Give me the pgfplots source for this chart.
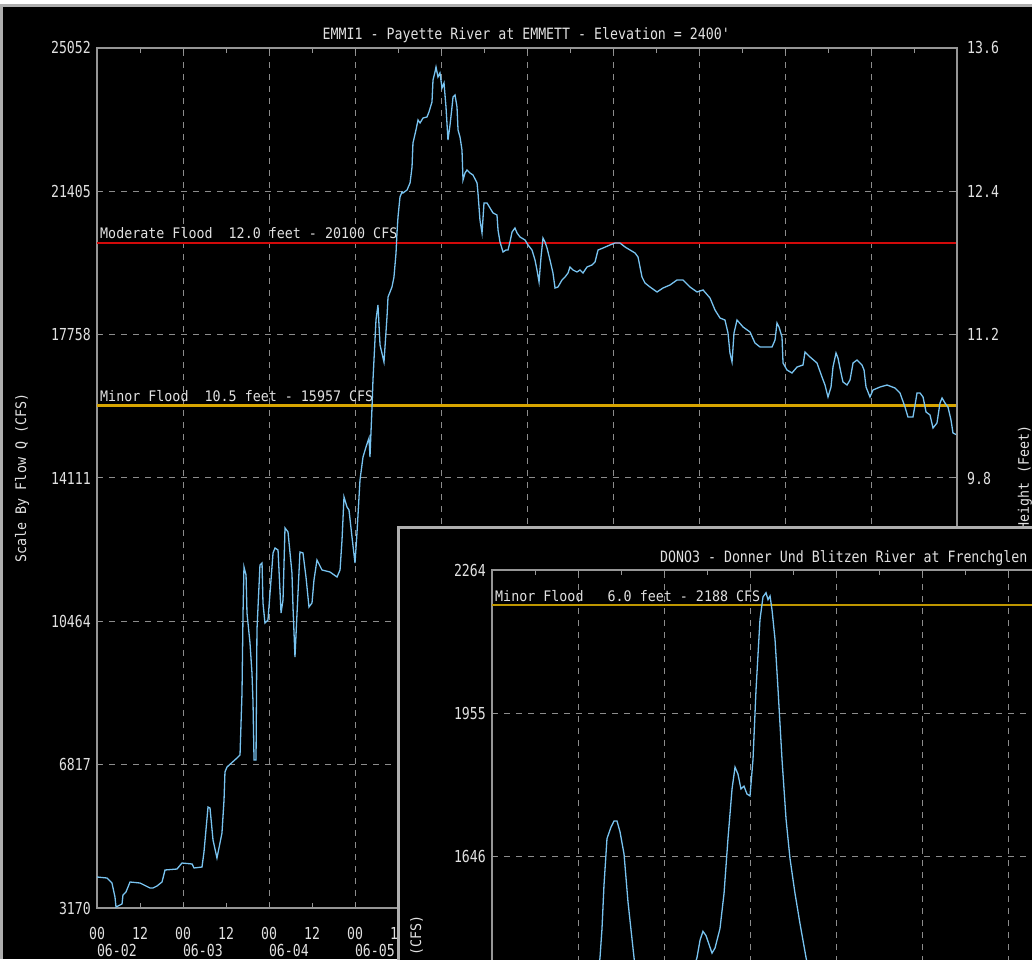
\documentclass[border=0pt]{standalone}
\usepackage{fontspec}
\usepackage{pgfplots}
\pgfplotsset{compat=1.18}

\newfontfamily\ticksfont[FakeStretch=0.8]{DejaVu Sans Mono}
\newfontfamily\labelfont[FakeStretch=0.92]{DejaVu Sans Mono}
\newfontfamily\titlefont[FakeStretch=0.85]{DejaVu Sans Mono}
\newcommand\tickf{\ticksfont\fontsize{16.5}{17}\selectfont}
\newcommand\labf{\labelfont\fontsize{14.5}{15}\selectfont}
\newcommand\titf{\titlefont\fontsize{15.6}{16}\selectfont}

\definecolor{framegray}{RGB}{150,150,150}
\definecolor{gridgray}{RGB}{140,140,140}
\definecolor{txtgray}{RGB}{225,225,225}
\definecolor{flowblue}{RGB}{120,195,240}
\definecolor{modred}{RGB}{210,10,10}
\definecolor{goldmain}{HTML}{D8A500}
\definecolor{goldinset}{HTML}{BE9600}
\definecolor{winborder}{RGB}{175,175,175}

\pgfplotsset{
  hydro/.style={
    scale only axis, width=860pt, height=860pt,
    xmin=0, xmax=10, scaled ticks=false,
    axis line style={draw=framegray, line width=1.4pt},
    xtick={0,1,...,10},
    extra x ticks={0.5,1.5,...,9.5},
    extra x tick style={grid=none},
    grid=major,
    major grid style={draw=gridgray, line width=1pt, dash pattern=on 6pt off 6pt},
    tick style={draw=framegray, line width=1pt},
    major tick length=5pt, tick align=inside,
    yticklabel style={font=\tickf, text=txtgray, anchor=east, inner sep=0pt, xshift=-6pt},
    xticklabel style={font=\tickf, text=txtgray, anchor=north, align=center, inner sep=0pt, yshift=-19pt},
    every axis title/.style={at={(0.5,1)}, anchor=base, yshift=8pt, font=\titf, text=txtgray, inner sep=0pt},
    every axis y label/.style={at={(axis description cs:-0.0872,0.5)}, rotate=90, anchor=center, font=\labf, text=txtgray},
  }
}

\begin{document}
\begin{tikzpicture}
\useasboundingbox (0,0) rectangle (1032pt,959pt);
\clip (0,0) rectangle (1032pt,959pt);
\fill[white] (0,0) rectangle (1032pt,959pt);
\fill[winborder] (0,0) rectangle (1032pt,955pt);
\fill[black] (3pt,0) rectangle (1032pt,952pt);

% EMMI1 main window
\begin{axis}[hydro, at={(97pt,51pt)}, anchor=south west,
  ymin=3170, ymax=25052,
  ytick={3170,6817,10464,14111,17758,21405,25052},
  yticklabels={3170,6817,10464,14111,17758,21405,25052},
  xticklabels={{00\\\rlap{06-02}},{00\\\rlap{06-03}},{00\\\rlap{06-04}},{00\\\rlap{06-05}},{},{},{},{},{},{},{}},
  extra x tick labels={12,12,12,12,{},{},{},{},{},{}},
  title={EMMI1 - Payette River at EMMETT - Elevation = 2400\textquotesingle},
  ylabel={Scale By Flow Q (CFS)}]
\addplot[color=modred, solid, line width=1.8pt] coordinates {(0,20100) (10,20100)};
\addplot[color=goldmain, solid, line width=2.2pt] coordinates {(0,15957) (10,15957)};
\node[anchor=base west, inner sep=0pt, xshift=3pt, yshift=4pt, font=\labf, text=txtgray]
  at (axis cs:0,20100) {Moderate Flood~~12.0 feet - 20100 CFS};
\node[anchor=base west, inner sep=0pt, xshift=3pt, yshift=4pt, font=\labf, text=txtgray]
  at (axis cs:0,15957) {Minor Flood~~10.5 feet - 15957 CFS};
\addplot[color=flowblue, line width=1.3pt] coordinates {
(0.000,3959) (0.116,3933) (0.174,3806) (0.209,3450) (0.221,3196) (0.291,3272) (0.302,3501)
(0.337,3577) (0.384,3832) (0.500,3806) (0.616,3679) (0.651,3679) (0.698,3730) (0.756,3832)
(0.791,4137) (0.930,4162) (0.988,4315) (1.105,4290) (1.128,4188) (1.221,4213) (1.244,4595)
(1.291,5740) (1.314,5715) (1.349,4900) (1.395,4442) (1.453,5078) (1.477,5918) (1.488,6631)
(1.512,6758) (1.628,6987) (1.663,7063) (1.686,8641) (1.698,10676) (1.709,11847) (1.733,11643)
(1.744,10676) (1.779,9913) (1.802,9149) (1.814,8412) (1.826,6936) (1.849,6936) (1.860,10244)
(1.895,11897) (1.919,11948) (1.930,10931) (1.953,10422) (1.988,10498) (2.012,11185) (2.047,12203)
(2.070,12330) (2.105,12279) (2.140,10676) (2.163,11007) (2.186,12839) (2.221,12737) (2.267,11694)
(2.279,10829) (2.302,9557) (2.326,10676) (2.360,12228) (2.395,12203) (2.430,11592) (2.465,10829)
(2.500,10931) (2.523,11516) (2.558,12025) (2.616,11770) (2.709,11719) (2.791,11592) (2.826,11770)
(2.849,12534) (2.872,13628) (2.907,13373) (2.930,13297) (2.965,12610) (3.000,11948) (3.023,12712)
(3.058,14060) (3.093,14645) (3.128,14900) (3.163,15129) (3.174,14645) (3.198,15918) (3.209,16605)
(3.244,18131) (3.267,18513) (3.291,17495) (3.337,17063) (3.372,18208) (3.384,18716) (3.430,18971)
(3.453,19225) (3.477,19836) (3.488,20345) (3.500,20752) (3.523,21261) (3.547,21388) (3.558,21363)
(3.605,21439) (3.640,21617) (3.663,22024) (3.674,22635) (3.709,22966) (3.733,23220) (3.756,23144)
(3.791,23271) (3.837,23296) (3.860,23424) (3.895,23678) (3.907,24238) (3.930,24441) (3.942,24569)
(3.965,24314) (3.988,24416) (4.012,24034) (4.035,24161) (4.058,23551) (4.081,22711) (4.105,23093)
(4.128,23551) (4.140,23805) (4.163,23856) (4.186,23551) (4.198,22966) (4.221,22787) (4.244,22457)
(4.256,21693) (4.279,21871) (4.302,21948) (4.337,21871) (4.372,21821) (4.419,21617) (4.430,21363)
(4.453,20676) (4.477,20345) (4.500,21108) (4.535,21108) (4.570,20981) (4.605,20854) (4.651,20803)
(4.663,20421) (4.686,20116) (4.721,19861) (4.756,19912) (4.779,19912) (4.802,20116) (4.826,20370)
(4.860,20472) (4.884,20345) (4.919,20243) (4.977,20167) (5.012,20040) (5.058,19912) (5.093,19658)
(5.116,19403) (5.140,19098) (5.163,19734) (5.186,20218) (5.209,20116) (5.233,19963) (5.267,19658)
(5.302,19327) (5.326,18945) (5.360,18971) (5.407,19149) (5.442,19225) (5.477,19327) (5.500,19480)
(5.535,19403) (5.581,19353) (5.616,19403) (5.651,19327) (5.698,19480) (5.756,19531) (5.791,19607)
(5.826,19912) (5.884,19963) (5.965,20040) (6.023,20090) (6.081,20090) (6.140,19989) (6.198,19912)
(6.256,19836) (6.291,19734) (6.337,19225) (6.372,19073) (6.430,18971) (6.512,18844) (6.581,18945)
(6.663,19022) (6.744,19149) (6.814,19149) (6.895,18971) (6.977,18844) (7.047,18895) (7.128,18691)
(7.186,18386) (7.244,18182) (7.302,18131) (7.337,17800) (7.360,17292) (7.384,17063) (7.407,17800)
(7.442,18131) (7.512,17953) (7.593,17826) (7.651,17546) (7.709,17444) (7.791,17444) (7.849,17444)
(7.884,17622) (7.907,18055) (7.930,17953) (7.965,17699) (7.977,17037) (8.023,16859) (8.081,16783)
(8.140,16935) (8.209,16986) (8.233,17317) (8.291,17190) (8.372,17037) (8.430,16681) (8.465,16477)
(8.500,16172) (8.535,16426) (8.558,16935) (8.593,17292) (8.616,17164) (8.651,16783) (8.674,16554)
(8.721,16477) (8.756,16605) (8.791,17037) (8.837,17113) (8.895,16986) (8.919,16859) (8.942,16426)
(8.988,16172) (9.023,16350) (9.105,16426) (9.186,16477) (9.279,16401) (9.337,16274) (9.395,15918)
(9.430,15663) (9.488,15663) (9.512,15968) (9.535,16274) (9.570,16274) (9.605,16172) (9.640,15790)
(9.686,15714) (9.721,15383) (9.767,15510) (9.802,16019) (9.826,16147) (9.860,16019) (9.895,15918)
(9.930,15587) (9.953,15256) (10.000,15205)};
\end{axis}

% stage axis on the right
\begin{axis}[scale only axis, width=860pt, height=860pt, at={(97pt,51pt)}, anchor=south west,
  xmin=0, xmax=10, ymin=3170, ymax=25052, scaled ticks=false,
  axis x line=none, axis y line*=right,
  y axis line style={draw=framegray, line width=1.4pt},
  ytick={14111,17758,21405,25052},
  yticklabels={9.8,11.2,12.4,13.6},
  ytick style={draw=none},
  yticklabel style={font=\tickf, text=txtgray, anchor=west, inner sep=0pt, xshift=10pt},
  every axis y label/.style={at={(axis description cs:1.079,0.5)}, rotate=90, anchor=center, font=\labf, text=txtgray},
  ylabel={Height (Feet)}]
\end{axis}

% DONO3 window on top
\fill[winborder] (397pt,-600pt) rectangle (1100pt,433pt);
\fill[black] (400pt,-600pt) rectangle (1100pt,430pt);
\begin{axis}[hydro, at={(492pt,-471pt)}, anchor=south west,
  ymin=410, ymax=2264,
  ytick={410,719,1028,1337,1646,1955,2264},
  yticklabels={{},{},{},{},1646,1955,2264},
  xticklabels={}, extra x tick labels={},
  every axis title/.style={at={(axis description cs:0.1953,1)}, anchor=base west, yshift=8pt, font=\titf, text=txtgray, inner sep=0pt},
  title={DONO3 - Donner Und Blitzen River at Frenchglen},
  ylabel={Scale By Flow Q (CFS)}]
\addplot[color=goldinset, solid, line width=1.8pt] coordinates {(0,2188) (10,2188)};
\node[anchor=base west, inner sep=0pt, xshift=3pt, yshift=4pt, font=\labf, text=txtgray]
  at (axis cs:0,2188) {Minor Flood~~~6.0 feet - 2188 CFS};
\addplot[color=flowblue, line width=1.3pt] coordinates {
(1.209,1341) (1.256,1429) (1.279,1491) (1.302,1584) (1.337,1685) (1.384,1710) (1.419,1723)
(1.453,1723) (1.488,1700) (1.535,1652) (1.581,1549) (1.651,1429) (1.721,1320) (1.953,1170)
(2.244,1341) (2.384,1429) (2.419,1466) (2.453,1485) (2.488,1476) (2.558,1438) (2.593,1449)
(2.651,1491) (2.698,1567) (2.744,1685) (2.791,1792) (2.826,1839) (2.860,1824) (2.895,1792)
(2.930,1798) (2.965,1781) (3.000,1777) (3.035,1856) (3.070,2006) (3.116,2157) (3.151,2206)
(3.186,2215) (3.209,2200) (3.233,2208) (3.256,2178) (3.291,2114) (3.326,2006) (3.372,1856)
(3.419,1727) (3.465,1642) (3.523,1567) (3.581,1502) (3.651,1429) (3.721,1363) (3.930,1213)};
\end{axis}
\end{tikzpicture}
\end{document}
